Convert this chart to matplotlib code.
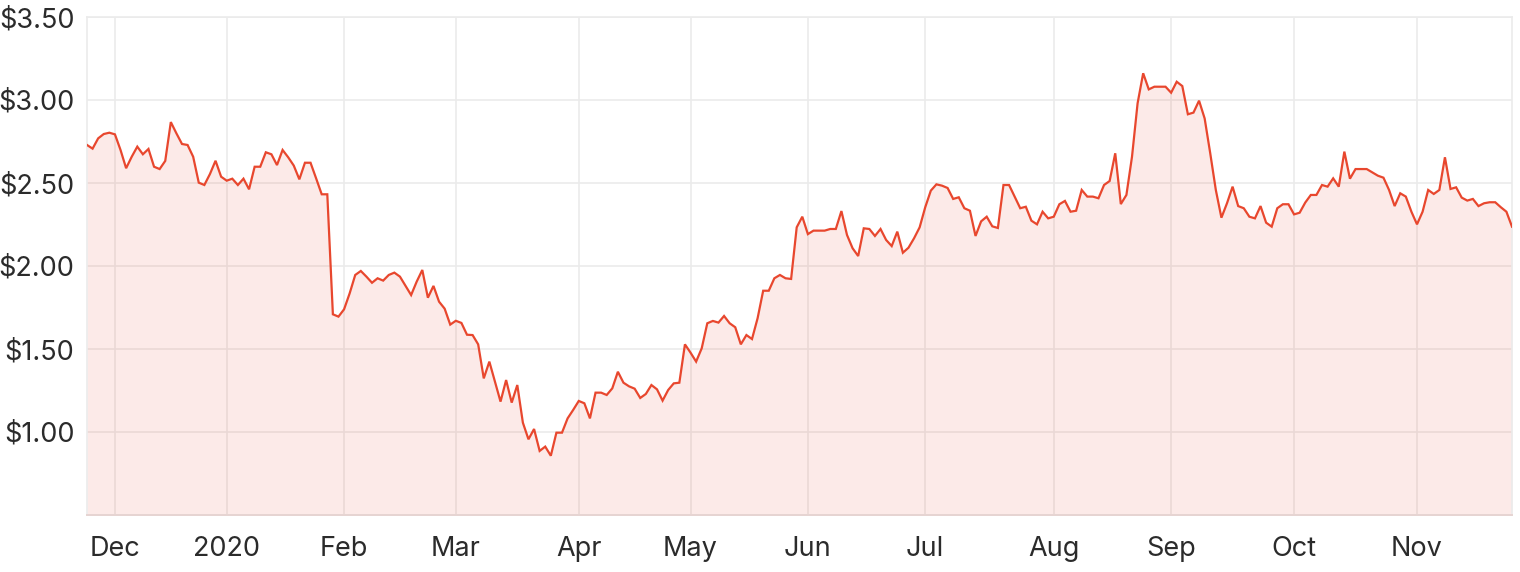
import matplotlib
matplotlib.use("Agg")
import matplotlib.pyplot as plt
import numpy as np
import pandas as pd

# ---- data ----
start_date = "2019-11-25"
end_date = "2020-11-25"
holidays = ["2019-12-25", "2019-12-26", "2020-01-01", "2020-01-27",
            "2020-04-10", "2020-04-13", "2020-06-08"]

prices = [
    2.729, 2.707, 2.769, 2.795, 2.803, 2.793, 2.699, 2.589, 2.658, 2.719,
    2.673, 2.705, 2.598, 2.584, 2.633, 2.867, 2.799, 2.735, 2.729, 2.658,
    2.502, 2.488, 2.554, 2.634, 2.538, 2.514, 2.526, 2.488, 2.526, 2.462,
    2.598, 2.598, 2.685, 2.673, 2.608, 2.699, 2.655, 2.605, 2.522, 2.622,
    2.622, 2.528, 2.432, 2.432, 1.709, 1.695, 1.739, 1.835, 1.946, 1.970,
    1.936, 1.899, 1.926, 1.912, 1.946, 1.960, 1.936, 1.880, 1.825, 1.906,
    1.976, 1.809, 1.880, 1.785, 1.743, 1.647, 1.670, 1.657, 1.586, 1.584,
    1.528, 1.323, 1.424, 1.303, 1.183, 1.313, 1.177, 1.283, 1.056, 0.956,
    1.018, 0.886, 0.912, 0.857, 0.996, 0.996, 1.082, 1.133, 1.187, 1.173,
    1.082, 1.237, 1.237, 1.223, 1.263, 1.363, 1.297, 1.275, 1.261, 1.205,
    1.229, 1.283, 1.257, 1.189, 1.253, 1.293, 1.297, 1.528, 1.478, 1.424,
    1.504, 1.655, 1.669, 1.659, 1.699, 1.655, 1.631, 1.528, 1.584, 1.560,
    1.685, 1.851, 1.851, 1.926, 1.946, 1.926, 1.922, 2.233, 2.297, 2.192,
    2.213, 2.213, 2.213, 2.223, 2.223, 2.331, 2.187, 2.107, 2.060, 2.227,
    2.223, 2.181, 2.223, 2.157, 2.120, 2.207, 2.080, 2.110, 2.167, 2.233,
    2.354, 2.454, 2.492, 2.484, 2.470, 2.404, 2.414, 2.348, 2.333, 2.181,
    2.269, 2.297, 2.239, 2.229, 2.488, 2.488, 2.418, 2.348, 2.357, 2.273,
    2.251, 2.327, 2.287, 2.297, 2.372, 2.392, 2.327, 2.333, 2.458, 2.418,
    2.418, 2.408, 2.488, 2.512, 2.679, 2.373, 2.428, 2.658, 2.980, 3.161,
    3.064, 3.080, 3.080, 3.080, 3.044, 3.110, 3.084, 2.914, 2.924, 2.996,
    2.889, 2.679, 2.458, 2.291, 2.378, 2.478, 2.361, 2.348, 2.297, 2.287,
    2.361, 2.261, 2.237, 2.348, 2.372, 2.372, 2.311, 2.321, 2.382, 2.428,
    2.428, 2.488, 2.478, 2.528, 2.478, 2.689, 2.526, 2.584, 2.584, 2.584,
    2.564, 2.544, 2.532, 2.458, 2.361, 2.438, 2.418, 2.327, 2.251, 2.327,
    2.458, 2.434, 2.458, 2.655, 2.464, 2.474, 2.412, 2.394, 2.404, 2.361,
    2.378, 2.384, 2.384, 2.354, 2.327, 2.237,
]

month_labels = ["Dec", "2020", "Feb", "Mar", "Apr", "May", "Jun",
                "Jul", "Aug", "Sep", "Oct", "Nov"]
y_ticks = [1.0, 1.5, 2.0, 2.5, 3.0, 3.5]
y_labels = ["$1.00", "$1.50", "$2.00", "$2.50", "$3.00", "$3.50"]

# ---- build ----
dates = pd.bdate_range(start_date, end_date, freq="C", holidays=holidays)
n = min(len(dates), len(prices))
dates = dates[:n]
vals = np.array(prices[:n])
x = np.arange(n)

# first trading day of each month (skip the partial starting month)
month_key = dates.year * 12 + dates.month
first_idx = [i for i in range(1, n) if month_key[i] != month_key[i - 1]]

plt.rcParams["font.family"] = ["Inter", "DejaVu Sans"]

fig = plt.figure(figsize=(15.2, 5.72), dpi=100)
ax = fig.add_axes([87 / 1520, 1 - 515 / 572, (1512 - 87) / 1520, (515 - 17) / 572])

line_color = "#e8472e"
ax.fill_between(x, vals, 0.5, color=line_color, alpha=0.11, lw=0, zorder=2)
ax.plot(x, vals, color=line_color, lw=1.6, zorder=3, solid_joinstyle="miter")

ax.set_xlim(0, n - 1)
ax.set_ylim(0.5, 3.5)

ax.set_xticks(first_idx)
ax.set_xticklabels(month_labels[:len(first_idx)])
ax.set_yticks(y_ticks)
ax.set_yticklabels(y_labels)

ax.grid(True, color="#ebebeb", lw=1.2, zorder=1)
ax.set_axisbelow(True)
for s in ["top", "right", "left"]:
    ax.spines[s].set_color("#ebebeb")
    ax.spines[s].set_linewidth(1.2)
ax.spines["bottom"].set_color("#e6d4d2")
ax.spines["bottom"].set_linewidth(1.4)

ax.tick_params(axis="both", length=0, labelsize=19.5, colors="#2b2b2b")
ax.tick_params(axis="x", pad=15)
ax.tick_params(axis="y", pad=9)

fig.savefig("out.png", dpi=100)
